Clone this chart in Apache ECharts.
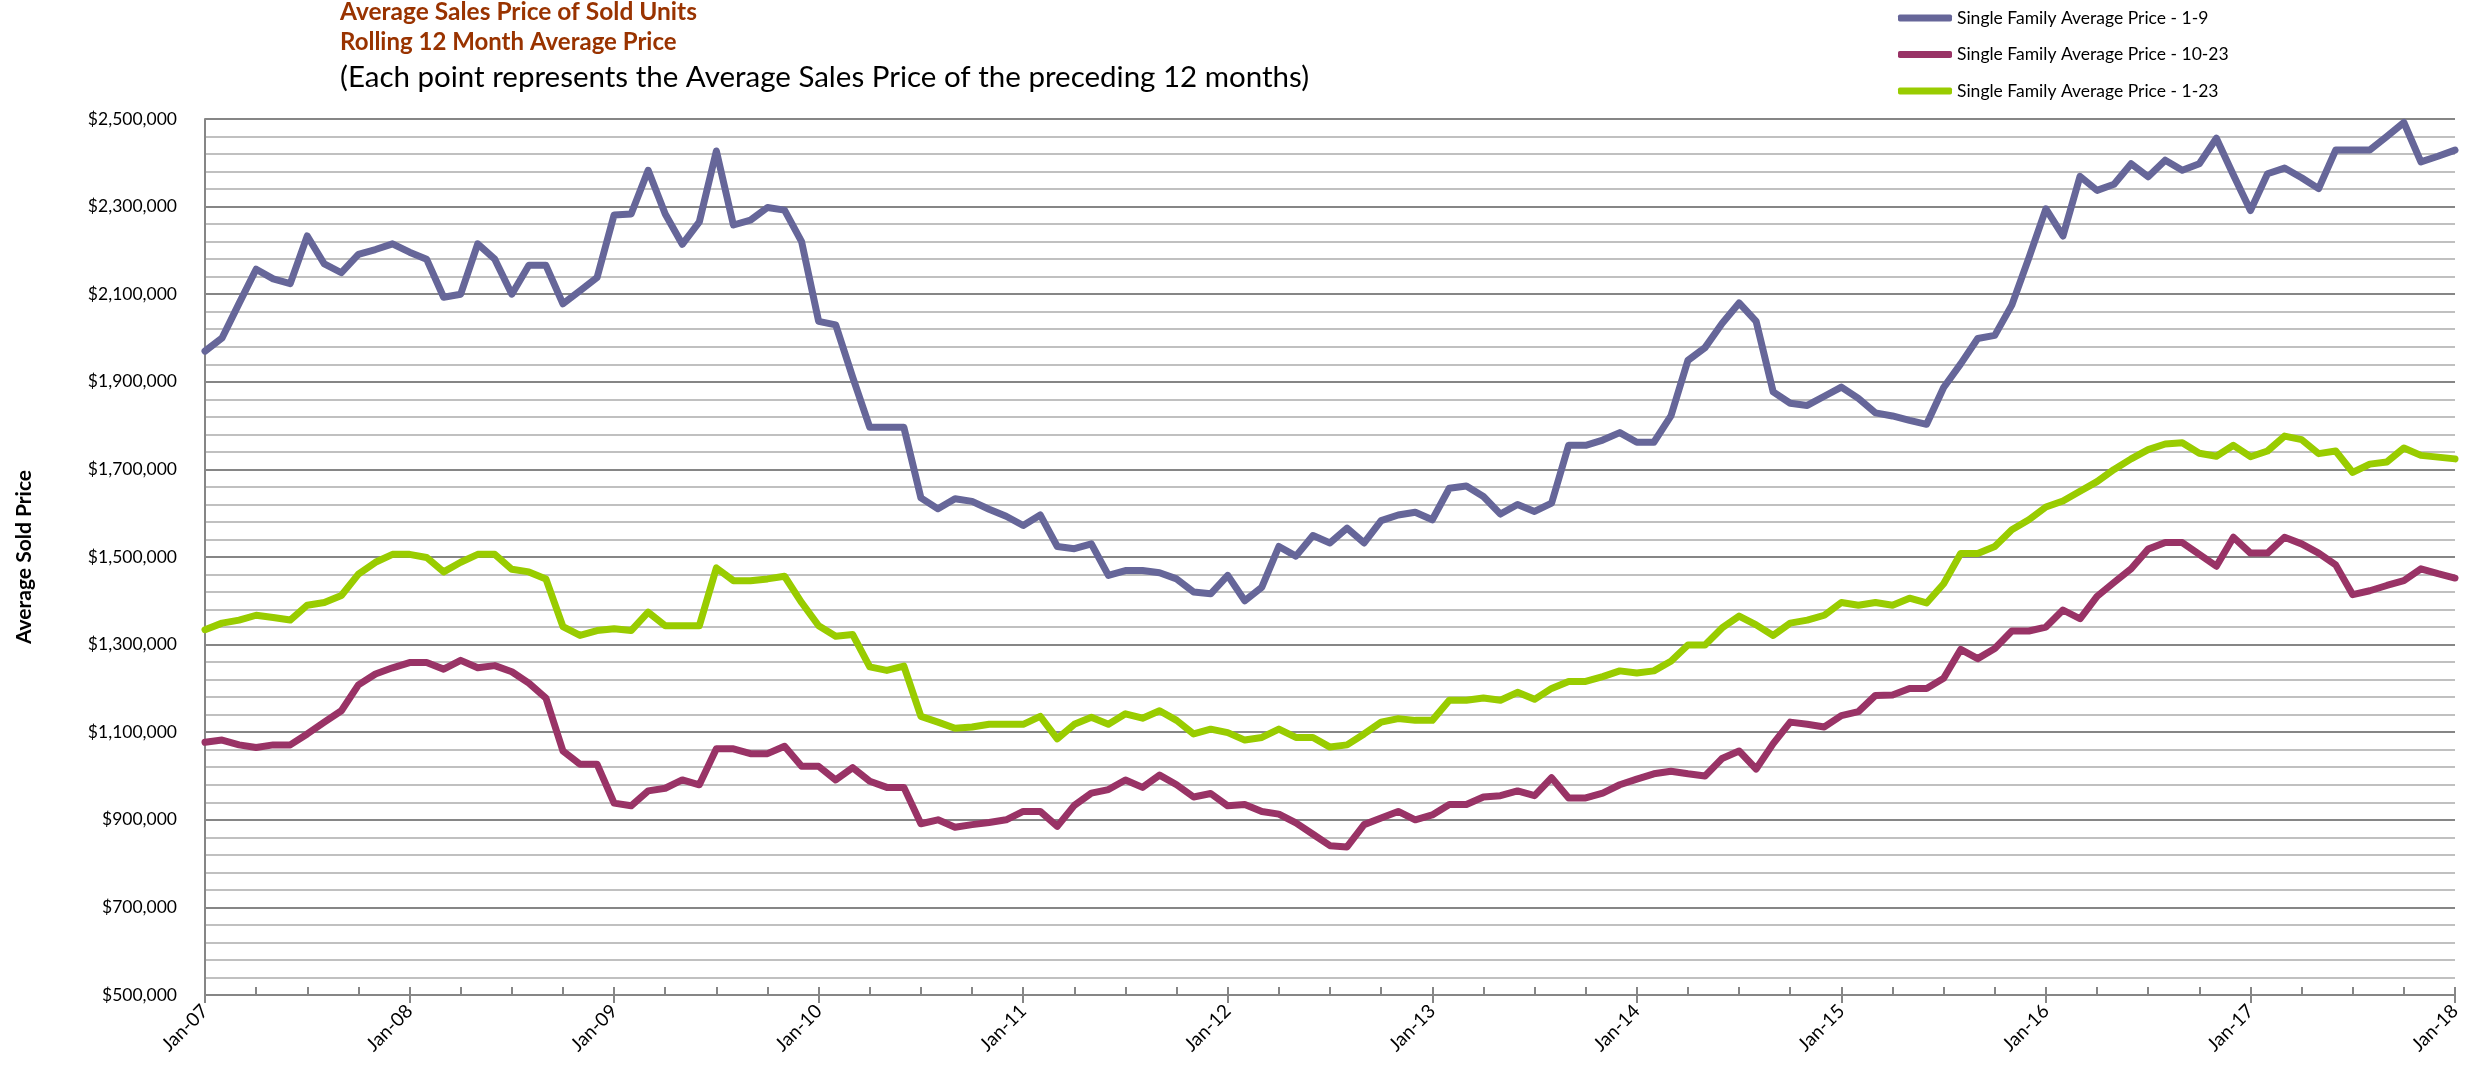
<!DOCTYPE html>
<html>
<head>
<meta charset="utf-8">
<title>Average Sales Price of Sold Units</title>
<script src="https://cdn.jsdelivr.net/npm/echarts@6.0.0/dist/echarts.min.js"></script>
<style>
html, body { margin: 0; padding: 0; background: #fff; }
#chart { width: 2481px; height: 1083px; }
</style>
</head>
<body>
<div id="chart"></div>
<script>
// monthly categories Jan-07 .. Jan-18
var monthNames = ['Jan', 'Feb', 'Mar', 'Apr', 'May', 'Jun', 'Jul', 'Aug', 'Sep', 'Oct', 'Nov', 'Dec'];
var months = [];
for (var y = 2007; y <= 2018; y++) {
    for (var m = 0; m < 12; m++) {
        if (y === 2018 && m > 0) break;
        months.push(monthNames[m] + '-' + String(y).slice(2));
    }
}

// Single Family Average Price - 1-9
var price1to9 = [
    1970000, 2000000, 2079000, 2157000, 2135000, 2124000, 2233000, 2169000, 2149000, 2191000, 2202000, 2215000,
    2196000, 2180000, 2093000, 2100000, 2215000, 2180000, 2100000, 2166000, 2166000, 2078000, 2108000, 2138000,
    2281000, 2283000, 2383000, 2283000, 2214000, 2265000, 2427000, 2258000, 2269000, 2298000, 2292000, 2220000,
    2038000, 2030000, 1910000, 1796000, 1796000, 1796000, 1635000, 1610000, 1633000, 1627000, 1609000, 1593000,
    1572000, 1596000, 1524000, 1519000, 1530000, 1458000, 1469000, 1469000, 1464000, 1450000, 1420000, 1416000,
    1458000, 1400000, 1431000, 1524000, 1502000, 1549000, 1532000, 1566000, 1532000, 1583000, 1596000, 1602000,
    1585000, 1657000, 1662000, 1638000, 1598000, 1620000, 1604000, 1623000, 1755000, 1755000, 1767000, 1784000,
    1762000, 1762000, 1822000, 1949000, 1978000, 2033000, 2080000, 2038000, 1877000, 1851000, 1846000, 1867000,
    1888000, 1862000, 1829000, 1822000, 1812000, 1803000, 1887000, 1941000, 1999000, 2006000, 2075000, 2183000,
    2295000, 2233000, 2369000, 2337000, 2351000, 2398000, 2368000, 2406000, 2383000, 2398000, 2456000, 2372000,
    2291000, 2375000, 2388000, 2366000, 2341000, 2429000, 2429000, 2429000, 2460000, 2492000, 2402000, 2415000,
    2429000
];

// Single Family Average Price - 10-23
var price10to23 = [
    1077000, 1082000, 1071000, 1065000, 1071000, 1071000, 1096000, 1123000, 1149000, 1208000, 1233000, 1247000,
    1259000, 1259000, 1244000, 1264000, 1247000, 1252000, 1238000, 1212000, 1178000, 1057000, 1027000, 1027000,
    938000, 932000, 966000, 972000, 991000, 980000, 1062000, 1062000, 1051000, 1051000, 1068000, 1022000,
    1022000, 991000, 1019000, 988000, 974000, 974000, 891000, 900000, 883000, 889000, 894000, 900000,
    919000, 919000, 885000, 933000, 961000, 969000, 991000, 974000, 1002000, 980000, 952000, 960000,
    932000, 935000, 919000, 913000, 893000, 867000, 841000, 838000, 889000, 904000, 919000, 900000,
    911000, 935000, 935000, 952000, 955000, 966000, 955000, 996000, 950000, 950000, 961000, 980000,
    993000, 1005000, 1011000, 1005000, 1000000, 1040000, 1057000, 1016000, 1074000, 1123000, 1118000, 1112000,
    1138000, 1147000, 1184000, 1185000, 1200000, 1200000, 1223000, 1289000, 1268000, 1291000, 1331000, 1331000,
    1340000, 1379000, 1359000, 1410000, 1442000, 1473000, 1518000, 1533000, 1533000, 1506000, 1479000, 1545000,
    1509000, 1509000, 1545000, 1530000, 1509000, 1482000, 1414000, 1423000, 1435000, 1446000, 1473000, 1462000,
    1452000
];

// Single Family Average Price - 1-23
var price1to23 = [
    1334000, 1349000, 1356000, 1367000, 1362000, 1356000, 1390000, 1396000, 1412000, 1461000, 1488000, 1506000,
    1506000, 1499000, 1466000, 1488000, 1506000, 1506000, 1472000, 1466000, 1450000, 1341000, 1321000, 1332000,
    1336000, 1332000, 1374000, 1343000, 1343000, 1343000, 1475000, 1446000, 1446000, 1450000, 1456000, 1396000,
    1343000, 1319000, 1323000, 1249000, 1241000, 1251000, 1136000, 1123000, 1109000, 1112000, 1118000, 1118000,
    1118000, 1136000, 1085000, 1118000, 1134000, 1118000, 1142000, 1132000, 1149000, 1127000, 1096000, 1107000,
    1099000, 1082000, 1088000, 1107000, 1088000, 1088000, 1066000, 1071000, 1096000, 1123000, 1131000, 1127000,
    1127000, 1173000, 1173000, 1178000, 1173000, 1191000, 1175000, 1200000, 1216000, 1216000, 1227000, 1240000,
    1235000, 1240000, 1262000, 1299000, 1299000, 1338000, 1365000, 1345000, 1321000, 1349000, 1356000, 1367000,
    1396000, 1390000, 1396000, 1390000, 1406000, 1395000, 1439000, 1508000, 1508000, 1524000, 1562000, 1585000,
    1614000, 1628000, 1650000, 1672000, 1700000, 1724000, 1745000, 1758000, 1761000, 1737000, 1730000, 1755000,
    1729000, 1742000, 1776000, 1768000, 1736000, 1742000, 1693000, 1712000, 1717000, 1749000, 1732000, 1728000,
    1724000
];

var seriesNames = [
    'Single Family Average Price - 1-9',
    'Single Family Average Price - 10-23',
    'Single Family Average Price - 1-23'
];

var FONT = 'Lato, "Open Sans", sans-serif';

var myChart = echarts.init(document.getElementById('chart'));
myChart.setOption({
    animation: false,
    color: ['#666699', '#993366', '#99cc00'],
    textStyle: { fontFamily: FONT },
    title: [{
        text: 'Average Sales Price of Sold Units',
        left: 340, top: 0, padding: 0,
        textStyle: { color: '#993300', fontWeight: 'bold', fontSize: 24.5, fontFamily: FONT }
    }, {
        text: 'Rolling 12 Month Average Price',
        left: 340, top: 30, padding: 0,
        textStyle: { color: '#993300', fontWeight: 'bold', fontSize: 24, fontFamily: FONT }
    }, {
        text: '(Each point represents the Average Sales Price of the preceding 12 months)',
        left: 340, top: 62, padding: 0,
        textStyle: { color: '#000', fontWeight: 'normal', fontSize: 29.5, fontFamily: FONT }
    }],
    legend: {
        orient: 'vertical',
        left: 1898, top: 9,
        padding: 0,
        itemWidth: 54, itemHeight: 7, itemGap: 18.5,
        icon: 'roundRect',
        data: seriesNames,
        textStyle: { fontSize: 17.5, color: '#000', fontFamily: FONT }
    },
    grid: { left: 205, right: 26, top: 119, bottom: 88, containLabel: false, outerBoundsMode: 'none' },
    xAxis: [{
        type: 'category',
        data: months,
        boundaryGap: false,
        axisLine: { lineStyle: { color: '#868686', width: 2 } },
        axisTick: {
            interval: function (i) { return i % 12 === 0; },
            length: 8,
            lineStyle: { color: '#868686', width: 2 }
        },
        axisLabel: {
            interval: function (i) { return i % 12 === 0; },
            rotate: 45, margin: 13,
            fontSize: 19, color: '#000', fontFamily: FONT
        },
        splitLine: { show: false }
    }, {
        type: 'category',
        data: months,
        boundaryGap: false,
        position: 'bottom',
        axisLine: { show: false },
        axisTick: {
            interval: function (i) { return i % 3 === 0; },
            inside: true, length: 8,
            lineStyle: { color: '#868686', width: 2 }
        },
        axisLabel: { show: false },
        splitLine: { show: false }
    }],
    yAxis: {
        type: 'value',
        min: 500000, max: 2500000, interval: 200000,
        name: 'Average Sold Price',
        nameLocation: 'middle',
        nameGap: 170,
        nameTextStyle: { fontWeight: 'bold', fontSize: 21, color: '#000', fontFamily: FONT },
        axisLine: { show: true, lineStyle: { color: '#868686', width: 2 } },
        axisTick: { show: false },
        axisLabel: {
            formatter: function (v) { return '$' + v.toLocaleString('en-US'); },
            fontSize: 17.5, color: '#000', margin: 28, fontFamily: FONT
        },
        splitLine: { lineStyle: { color: '#868686', width: 2 } },
        minorTick: { show: false, splitNumber: 5 },
        minorSplitLine: { show: true, lineStyle: { color: '#c0c0c0', width: 2 } }
    },
    series: [{
        name: seriesNames[0], type: 'line', data: price1to9,
        showSymbol: false, lineStyle: { width: 7, cap: 'round', join: 'round' }
    }, {
        name: seriesNames[1], type: 'line', data: price10to23,
        showSymbol: false, lineStyle: { width: 7, cap: 'round', join: 'round' }
    }, {
        name: seriesNames[2], type: 'line', data: price1to23,
        showSymbol: false, lineStyle: { width: 7, cap: 'round', join: 'round' }
    }]
});
</script>
</body>
</html>
